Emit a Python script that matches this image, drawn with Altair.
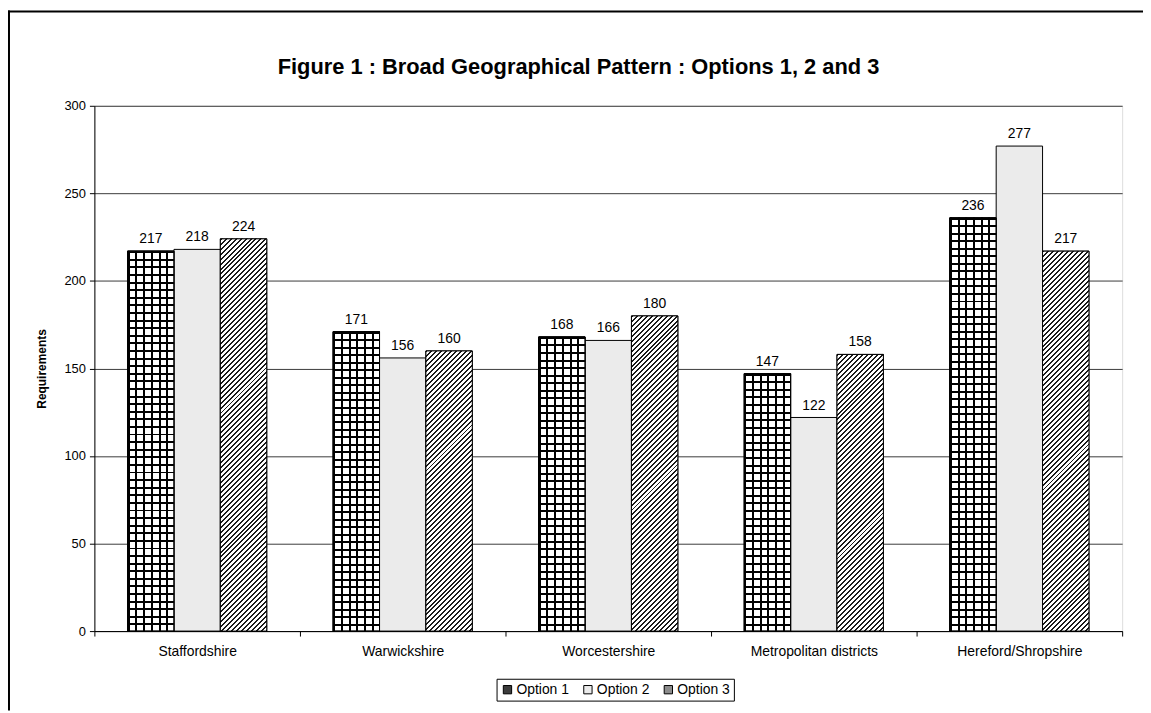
import altair as alt
import pandas as pd

# ---- data ----
regions = ["Staffordshire", "Warwickshire", "Worcestershire",
           "Metropolitan districts", "Hereford/Shropshire"]
options = ["Option 1", "Option 2", "Option 3"]
option1 = [217, 171, 168, 147, 236]
option2 = [218, 156, 166, 122, 277]
option3 = [224, 160, 180, 158, 217]
y_ticks = [0, 50, 100, 150, 200, 250, 300]
title_text = "Figure 1 : Broad Geographical Pattern : Options 1, 2 and 3"
y_title = "Requirements"

rows = []
for opt, vals in zip(options, [option1, option2, option3]):
    for r, v in zip(regions, vals):
        rows.append({"region": r, "option": opt, "value": v})
df = pd.DataFrame(rows)

# ---- layout ----
W, H = 1035, 529
Y_MAX = 300
FONT = "Liberation Sans"
PAD_OUTER = 0.716
band_px = W / len(regions)
bar_px = band_px / (len(options) + 2 * PAD_OUTER)


def stripe_stops(period, dark_w, total, dark, light):
    stops = []
    k = 0
    while k * period < total:
        a = min(k * period / total, 1.0)
        b = min((k * period + dark_w) / total, 1.0)
        c = min((k + 1) * period / total, 1.0)
        stops += [(a, dark), (b, dark), (b, light), (c, light)]
        k += 1
    return [{"offset": round(o, 5), "color": col} for o, col in stops]


x_enc = alt.X("region:N", scale=alt.Scale(domain=regions, paddingInner=0, paddingOuter=0),
              axis=alt.Axis(title=None, tickBand="extent", labelFont=FONT, labelFontSize=14,
                            labelColor="black", labelPadding=9, tickSize=5, tickColor="black",
                            domainColor="black", labelAngle=0, grid=False))
xo_enc = alt.XOffset("option:N", scale=alt.Scale(domain=options, paddingInner=0,
                                                  paddingOuter=PAD_OUTER))
y_enc = alt.Y("value:Q", scale=alt.Scale(domain=[0, Y_MAX], nice=False),
              axis=alt.Axis(values=y_ticks, title=y_title, titleFont=FONT, titleFontSize=12,
                            titleFontWeight="bold", titleColor="black", titleAngle=-90,
                            titleX=-53, titleY=H / 2, titleAlign="center",
                            titleBaseline="middle", labelFont=FONT, labelFontSize=13,
                            labelColor="black", labelPadding=4, tickSize=5,
                            tickColor="black", domainColor="black", grid=True,
                            gridColor="#3a3a3a", gridWidth=1))

base = alt.Chart(df).encode(x=x_enc, xOffset=xo_enc, y=y_enc)

bars = base.mark_bar(stroke="black", strokeWidth=1).encode(
    fill=alt.Fill("option:N",
                  scale=alt.Scale(domain=options, range=["#3c3c3c", "#ebebeb", "#8c8c8c"]),
                  legend=alt.Legend(title=None, orient="none", legendX=405, legendY=577,
                                    direction="horizontal", strokeColor="black",
                                    padding=4, symbolType="square", symbolSize=70,
                                    symbolStrokeColor="black", symbolStrokeWidth=1,
                                    labelFont=FONT, labelFontSize=14, labelColor="black",
                                    labelOffset=2, columnPadding=12, fillColor="white"))
)

layers = [bars]

# Option 1: grid pattern (vertical stripes + horizontal stripes)
vert = {"gradient": "linear", "x1": 0, "y1": 0, "x2": 1, "y2": 0,
        "stops": stripe_stops(bar_px / 6, 2, bar_px, "#000000", "#ffffff")}
layers.append(
    base.transform_filter(alt.datum.option == options[0])
    .mark_bar(fill=vert, stroke="black", strokeWidth=1)
)
for r, v in zip(regions, option1):
    h = v / Y_MAX * H
    n = max(1, round(h / 7.6))
    grad = {"gradient": "linear", "x1": 0, "y1": 0, "x2": 0, "y2": 1,
            "stops": stripe_stops(h / n, 2, h, "#000000", "rgba(0,0,0,0)")}
    layers.append(
        base.transform_filter((alt.datum.option == options[0]) & (alt.datum.region == r))
        .mark_bar(fill=grad, stroke="black", strokeWidth=1)
    )

# Option 3: diagonal hatch
for r, v in zip(regions, option3):
    h = v / Y_MAX * H
    w = bar_px
    c = (w + h) / (w * w + h * h)
    grad = {"gradient": "linear", "x1": 0, "y1": 0, "x2": round(w * c, 6),
            "y2": round(h * c, 6),
            "stops": stripe_stops(5, 2, w + h, "#1a1a1a", "#ffffff")}
    layers.append(
        base.transform_filter((alt.datum.option == options[2]) & (alt.datum.region == r))
        .mark_bar(fill=grad, stroke="black", strokeWidth=1)
    )

labels = base.mark_text(baseline="bottom", dy=-5, font=FONT, fontSize=14,
                        color="black").encode(text=alt.Text("value:Q"))
layers.append(labels)

single = alt.Data(values=[{"t": title_text}])
title_layer = alt.Chart(single).mark_text(
    font=FONT, fontSize=22, fontWeight="bold", color="black",
    align="center", baseline="middle").encode(
    x=alt.value(W / 2 - 30), y=alt.value(-39), text="t:N")

frame_left = alt.Chart(single).mark_rule(color="black", strokeWidth=2).encode(
    x=alt.value(-86), y=alt.value(-96), y2=alt.value(H + 80))
frame_top = alt.Chart(single).mark_rule(color="black", strokeWidth=2).encode(
    x=alt.value(-87), x2=alt.value(W + 21), y=alt.value(-95))
layers += [title_layer, frame_left, frame_top]

chart = alt.layer(*layers).properties(
    width=W, height=H,
    autosize=alt.AutoSizeParams(type="none"),
    padding={"left": 87, "top": 96, "right": 21, "bottom": 80},
).configure_view(stroke=None).configure(background="white")

chart.save("out.html", embed_options={"renderer": "svg", "actions": False})
